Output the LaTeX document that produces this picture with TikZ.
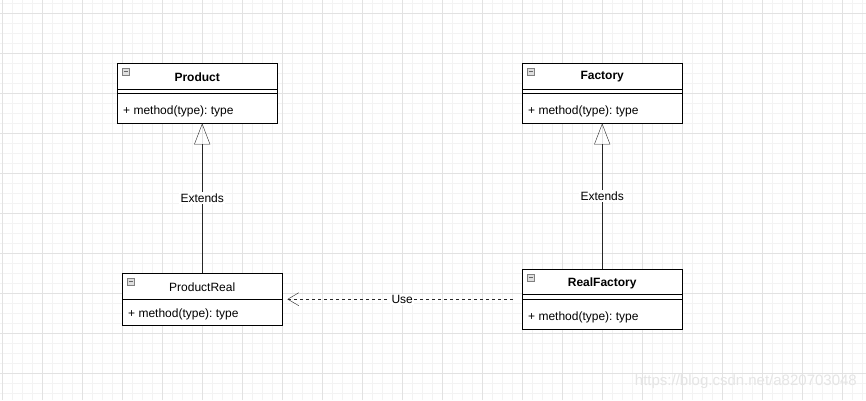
\documentclass[tikz,border=0pt]{standalone}
\usepackage{fontspec}
\setmainfont{Liberation Sans}
\usepackage{tikz}
\usetikzlibrary{arrows.meta}
\usetikzlibrary{calc,positioning}
\definecolor{minorgrid}{HTML}{F3F3F3}
\definecolor{majorgrid}{HTML}{E2E2E2}
\frenchspacing
\tikzset{
 classbox/.style={draw=black, fill=white, anchor=north west, minimum width=160pt, inner sep=0pt},
 classname/.style={font=\fontsize{12}{14}\selectfont, inner sep=1pt},
 classmethod/.style={font=\fontsize{12}{14}\selectfont, anchor=west, inner sep=1pt},
 extends/.style={draw=black!85, -{Triangle[open, length=21pt, width=16pt]}},
 uses/.style={draw=black!85, dash pattern=on 3pt off 3pt, -{Straight Barb[length=11pt, width=13pt]}, shorten >=5pt, shorten <=9pt},
 edgelabel/.style={font=\fontsize{12}{14}\selectfont, fill=white, inner sep=1.5pt},
}
% small collapse icon in the corner of a class (y grows downwards)
\newcommand{\classicon}[1]{
 \draw[gray, fill=gray!25] ($(#1.north west)+(5,5)$) rectangle ++(7,7);
 \draw[gray!80!black] ($(#1.north west)+(6.5,8.5)$) --++(4,0);
}

\begin{document}
\begin{tikzpicture}[x=1pt, y=-1pt]
\useasboundingbox (0,0) rectangle (866,400);
\fill[white] (0,0) rectangle (866,400);
% background grid
\foreach \x in {2,12,...,862} {
 \draw[minorgrid] (\x,0) -- (\x,400);
}
\foreach \y in {3,13,...,393} {
 \draw[minorgrid] (0,\y) -- (866,\y);
}
\foreach \x in {2,42,...,842} {
 \draw[majorgrid] (\x,0) -- (\x,400);
}
\foreach \y in {13,53,...,373} {
 \draw[majorgrid] (0,\y) -- (866,\y);
}

% Product
\node[classbox, minimum height=60pt] (product) at (117,63) {};
\node[classname] (productname) at ($(product.north)+(0,14)$) {\bfseries Product};
\draw ($(product.north west)+(0,26)$) -- ($(product.north east)+(0,26)$);
\draw ($(product.north west)+(0,30)$) -- ($(product.north east)+(0,30)$);
\node[classmethod] (productmethod) at ($(product.north west)+(5,48)$) {+ method(type): type};
\classicon{product}

% Factory
\node[classbox, minimum height=60pt] (factory) at (522,63) {};
\node[classname] (factoryname) at ($(factory.north)+(0,14)$) {\bfseries Factory};
\draw ($(factory.north west)+(0,26)$) -- ($(factory.north east)+(0,26)$);
\draw ($(factory.north west)+(0,30)$) -- ($(factory.north east)+(0,30)$);
\node[classmethod] (factorymethod) at ($(factory.north west)+(5,48)$) {+ method(type): type};
\classicon{factory}

% ProductReal
\node[classbox, minimum height=52pt] (productreal) at (122,273) {};
\node[classname] (productrealname) at ($(productreal.north)+(0,14)$) {ProductReal};
\draw ($(productreal.north west)+(0,26)$) -- ($(productreal.north east)+(0,26)$);
\node[classmethod] (productrealmethod) at ($(productreal.north west)+(5,41)$) {+ method(type): type};
\classicon{productreal}

% RealFactory
\node[classbox, minimum height=60pt] (realfactory) at (522,269) {};
\node[classname] (realfactoryname) at ($(realfactory.north)+(0,14)$) {\bfseries RealFactory};
\draw ($(realfactory.north west)+(0,25)$) -- ($(realfactory.north east)+(0,25)$);
\draw ($(realfactory.north west)+(0,30)$) -- ($(realfactory.north east)+(0,30)$);
\node[classmethod] (realfactorymethod) at ($(realfactory.north west)+(5,48)$) {+ method(type): type};
\classicon{realfactory}

% relations
\draw[extends] (productreal.north) -- (productreal.north |- product.south) node[midway, edgelabel] {Extends};
\draw[extends] (realfactory.north) -- (factory.south) node[midway, edgelabel] {Extends};
\draw[uses] (realfactory.west) -- (productreal.east) node[midway, edgelabel] {Use};

% watermark
\node[font=\fontsize{15}{17}\selectfont, text=black!10, anchor=east, inner sep=0pt] (watermark) at (857,382) {https://blog.csdn.net/a820703048};
\end{tikzpicture}
\end{document}
